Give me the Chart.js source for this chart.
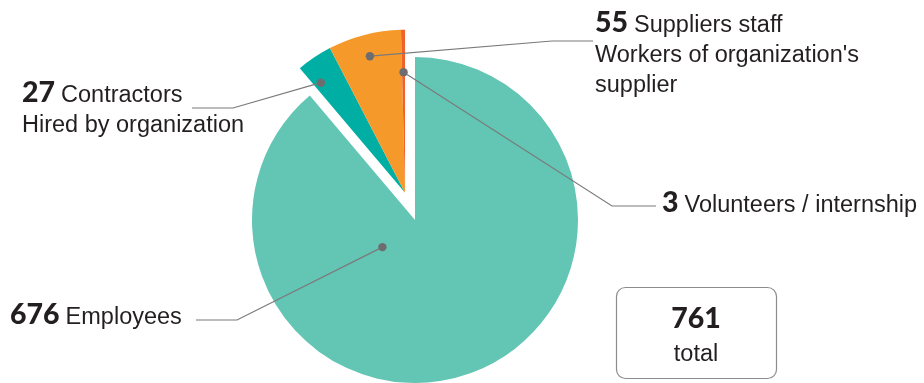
<!DOCTYPE html>
<html>
<head>
<meta charset="utf-8">
<script src="https://cdn.jsdelivr.net/npm/chart.js@4"></script>
<style>
  html, body { margin: 0; padding: 0; background: #ffffff; }
  #chart { display: block; }
</style>
</head>
<body>
<canvas id="chart" width="924" height="383"></canvas>
<script>
// Data
const categories = ['Employees', 'Contractors', 'Suppliers staff', 'Volunteers / internship'];
const values = [676, 27, 55, 3];
const subLines = [[], ['Hired by organization'], ["Workers of organization's", 'supplier'], []];
const sliceColors = ['#63c5b4', '#00aea3', '#f6992b', '#f0612b'];
const exploded = [false, true, true, true];

// Label layout (text position, leader elbow/end, anchor inside slice)
const labelLayout = [
    { x: 10, y: 324, lineEnd: [196, 320], elbow: [237, 320], t: 0.72, r: 0.26 },
    { x: 22, y: 102, lineEnd: [192, 108], elbow: [233, 108], t: 0.22, r: 0.85 },
    { x: 595, y: 32, lineEnd: [593, 41], elbow: [552, 41], t: 0.5, r: 0.865 },
    { x: 662, y: 212, lineEnd: [656, 206], elbow: [612, 206], t: 0.5, r: 0.74 }
];

const FONT = '"Liberation Sans", Arial, sans-serif';
const NUM_FONT = 'Lato, "Liberation Sans", sans-serif';
const TEXT_COLOR = '#231f20';
const LINE_COLOR = '#7a7a7a';
const LINE_GAP = 30;

// Move the small slices together, along the mid angle of the whole group
const explodeGroup = {
    id: 'explodeGroup',
    afterDatasetsUpdate(chart) {
        const arcs = chart.getDatasetMeta(0).data;
        let start = Infinity, end = -Infinity;
        arcs.forEach((arc, i) => {
            if (!exploded[i]) return;
            start = Math.min(start, arc.startAngle);
            end = Math.max(end, arc.endAngle);
        });
        if (start === Infinity) return;
        const mid = (start + end) / 2;
        const dist = 29;
        arcs.forEach((arc, i) => {
            if (!exploded[i]) return;
            arc.x += Math.cos(mid) * dist;
            arc.y += Math.sin(mid) * dist;
        });
    }
};

// Leader lines, labels and the total box
const callouts = {
    id: 'callouts',
    afterDraw(chart) {
        const ctx = chart.ctx;
        const arcs = chart.getDatasetMeta(0).data;
        ctx.save();
        arcs.forEach((arc, i) => {
            const lay = labelLayout[i];
            const ang = arc.startAngle + lay.t * (arc.endAngle - arc.startAngle);
            const rr = lay.r * arc.outerRadius;
            const ax = arc.x + Math.cos(ang) * rr;
            const ay = arc.y + Math.sin(ang) * rr;

            ctx.strokeStyle = LINE_COLOR;
            ctx.lineWidth = 1.2;
            ctx.beginPath();
            ctx.moveTo(ax, ay);
            ctx.lineTo(lay.elbow[0], lay.elbow[1]);
            ctx.lineTo(lay.lineEnd[0], lay.lineEnd[1]);
            ctx.stroke();

            ctx.fillStyle = '#6d6d6f';
            ctx.beginPath();
            ctx.arc(ax, ay, 4.2, 0, Math.PI * 2);
            ctx.fill();

            ctx.fillStyle = TEXT_COLOR;
            ctx.textBaseline = 'alphabetic';
            ctx.textAlign = 'left';
            ctx.font = '900 28.5px ' + NUM_FONT;
            const num = String(values[i]);
            ctx.fillText(num, lay.x, lay.y);
            const w = ctx.measureText(num).width;
            ctx.font = '23.5px ' + FONT;
            ctx.fillText(categories[i], lay.x + w + 6, lay.y);
            subLines[i].forEach((s, k) => {
                ctx.fillText(s, lay.x, lay.y + LINE_GAP * (k + 1));
            });
        });

        // total box
        const total = values.reduce((a, b) => a + b, 0);
        const bx = 616, by = 287, bw = 160, bh = 91, rad = 9;
        ctx.strokeStyle = '#8c8c8c';
        ctx.lineWidth = 1.2;
        ctx.beginPath();
        ctx.roundRect(bx + 0.5, by + 0.5, bw, bh, rad);
        ctx.stroke();
        ctx.fillStyle = TEXT_COLOR;
        ctx.textAlign = 'center';
        ctx.font = '900 28.5px ' + NUM_FONT;
        ctx.fillText(String(total), bx + bw / 2, by + 41);
        ctx.font = '23.5px ' + FONT;
        ctx.fillText('total', bx + bw / 2, by + 74);
        ctx.restore();
    }
};

new Chart(document.getElementById('chart'), {
    type: 'pie',
    data: {
        labels: categories,
        datasets: [{
            data: values,
            backgroundColor: sliceColors,
            borderWidth: 0
        }]
    },
    options: {
        responsive: false,
        animation: false,
        layout: { padding: { left: 252, right: 346, top: 57, bottom: 0 } },
        plugins: {
            legend: { display: false },
            tooltip: { enabled: false }
        }
    },
    plugins: [explodeGroup, callouts]
});
</script>
</body>
</html>
